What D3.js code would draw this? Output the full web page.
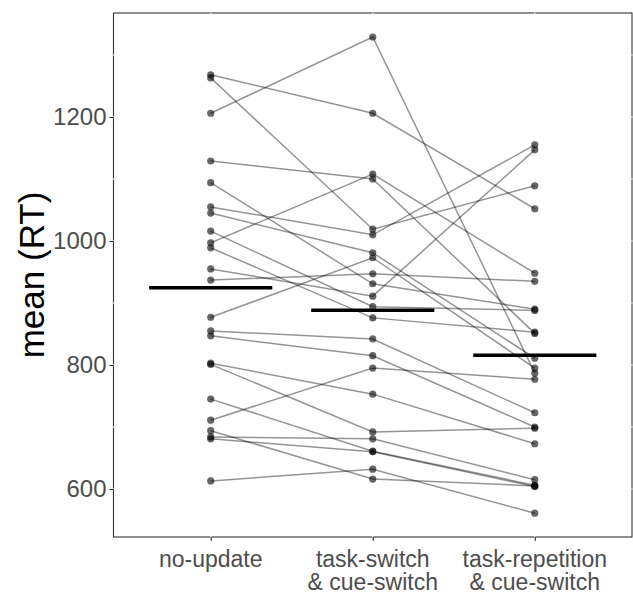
<!DOCTYPE html>
<html>
<head>
<meta charset="utf-8">
<script src="https://cdn.jsdelivr.net/npm/d3@7"></script>
<style>
body{margin:0;background:#fff;}
text{font-family:"Liberation Sans",Arial,sans-serif;}
</style>
</head>
<body>
<svg class="chart" width="633" height="594"></svg>
<script>
// conditions on the x axis (two-line labels)
var conditions = ["no-update","task-switch & cue-switch","task-repetition & cue-switch"];
var labelLines = [["no-update"],["task-switch","& cue-switch"],["task-repetition","& cue-switch"]];

// mean RT per participant, one value per condition
var noUpdate   = [1268,1263,1206,1129,1094,1055,1045,1016,997,989,955,937,877,855,847,803,801,745,711,694,684,681,613];
var taskSwitch = [1206,1019,1329,1100,931,1010,981,894,1108,876,911,947,973,842,815,753,692,661,795,616,681,660,632];
var taskRep    = [1052,1089,787,851,890,1155,811,888,948,853,1147,935,795,723,700,673,698,606,777,605,615,604,561];

var yTicks = [600,800,1000,1200];
var yMinor = [700,900,1100,1300];

var pLeft=113.5, pRight=632, pTop=13, pBottom=537;

var svg = d3.select(".chart");

var scaleX = d3.scalePoint().domain(conditions).range([pLeft,pRight]).padding(0.6);
var scaleY = d3.scaleLinear().domain([522.6,1367.7]).range([pBottom,pTop]);

var subjects = noUpdate.map(function(d,i){
	return [
		{cond:conditions[0], rt:d},
		{cond:conditions[1], rt:taskSwitch[i]},
		{cond:conditions[2], rt:taskRep[i]}
	];
});
var means = [d3.mean(noUpdate), d3.mean(taskSwitch), d3.mean(taskRep)];

//panel border
svg.append("rect")
	.attr("x",pLeft).attr("y",pTop)
	.attr("width",pRight-pLeft).attr("height",pBottom-pTop)
	.style("fill","none").style("stroke","#333").style("stroke-width",1.1);

//white grid lines drawn over the border
svg.selectAll(".gridY")
	.data(yMinor.concat(yTicks))
	.enter().append("line")
	.attr("class","gridY")
	.attr("x1",pLeft-0.6).attr("x2",pRight+0.6)
	.attr("y1",function(d){return scaleY(d);})
	.attr("y2",function(d){return scaleY(d);})
	.style("stroke","#fff").style("stroke-width",1.1);

svg.selectAll(".gridX")
	.data(conditions)
	.enter().append("line")
	.attr("class","gridX")
	.attr("x1",function(d){return scaleX(d);})
	.attr("x2",function(d){return scaleX(d);})
	.attr("y1",pTop-0.6).attr("y2",pBottom+0.6)
	.style("stroke","#fff").style("stroke-width",1.1);

//axes
var yAxis = d3.axisLeft(scaleY).tickValues(yTicks).tickFormat(d3.format("d")).tickSize(4).tickPadding(3);
var xAxis = d3.axisBottom(scaleX).tickSize(4).tickFormat("");

var gy = svg.append("g")
	.attr("class","axis")
	.attr("transform","translate("+pLeft+",0)")
	.call(yAxis);
gy.select(".domain").remove();
gy.selectAll("line").style("stroke","#333").style("stroke-width",1.1);
gy.selectAll("text").style("font-size","24px").style("fill","#4d4d4d");

var gx = svg.append("g")
	.attr("class","axis")
	.attr("transform","translate(0,"+pBottom+")")
	.call(xAxis);
gx.select(".domain").remove();
gx.selectAll("line").style("stroke","#333").style("stroke-width",1.1);

//x labels, two lines
labelLines.forEach(function(lines,i){
	lines.forEach(function(t,j){
		svg.append("text")
			.attr("x",scaleX(conditions[i]))
			.attr("y",567+j*23)
			.attr("text-anchor","middle")
			.style("font-size","23px")
			.style("fill","#4d4d4d")
			.text(t);
	});
});

//y title
svg.append("text")
	.attr("transform","translate(44,"+((pTop+pBottom)/2)+") rotate(-90)")
	.attr("text-anchor","middle")
	.style("font-size","35px")
	.style("fill","#000")
	.text("mean (RT)");

//participant lines
var line = d3.line()
	.x(function(d){return scaleX(d.cond);})
	.y(function(d){return scaleY(d.rt);});

svg.selectAll(".subj")
	.data(subjects)
	.enter().append("path")
	.attr("class","subj")
	.attr("d",line)
	.style("fill","none")
	.style("stroke","#000")
	.style("stroke-opacity",0.42)
	.style("stroke-width",1.5);

subjects.forEach(function(s){
	svg.selectAll(null)
		.data(s)
		.enter().append("circle")
		.attr("cx",function(d){return scaleX(d.cond);})
		.attr("cy",function(d){return scaleY(d.rt);})
		.attr("r",3.6)
		.style("fill","#000")
		.style("fill-opacity",0.6);
});

//mean bars
var half = scaleX.step()*0.38;
svg.selectAll(".meanbar")
	.data(means)
	.enter().append("line")
	.attr("class","meanbar")
	.attr("x1",function(d,i){return scaleX(conditions[i])-half;})
	.attr("x2",function(d,i){return scaleX(conditions[i])+half;})
	.attr("y1",function(d){return scaleY(d);})
	.attr("y2",function(d){return scaleY(d);})
	.style("stroke","#000")
	.style("stroke-width",3.4);
</script>
</body>
</html>
